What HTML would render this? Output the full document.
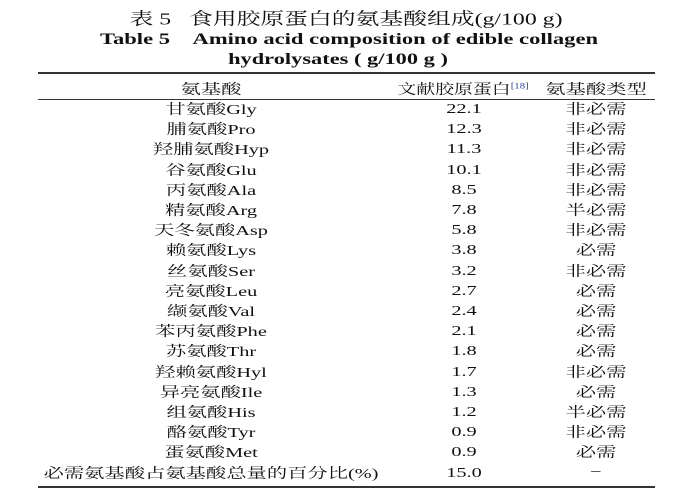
<!DOCTYPE html>
<html><head><meta charset="utf-8"><style>
body{margin:0;width:692px;height:502px;background:#fff;font-family:"Liberation Serif","Noto Serif CJK SC",serif;color:#111;position:relative;overflow:hidden}
.t{position:absolute;white-space:nowrap;transform:translate(-50%,-50%) scaleX(1.45);font-size:14px}
.r{position:absolute;left:38px;width:617px;background:#333}
</style></head><body>
<div class="t" style="left:346px;top:17px;font-size:17px;transform:translate(-50%,-50%) scaleX(1.4)">表 5&nbsp;&nbsp;&nbsp;食用胶原蛋白的氨基酸组成(g/100 g)</div>
<div class="t" style="left:349px;top:40px;font-size:16px;font-weight:bold;transform:translate(-50%,-50%) scaleX(1.41)">Table 5&nbsp;&nbsp;&nbsp;&nbsp;Amino acid composition of edible collagen</div>
<div class="t" style="left:338px;top:60px;font-size:16px;font-weight:bold;transform:translate(-50%,-50%) scaleX(1.4)">hydrolysates ( g/100 g )</div>
<div class="r" style="top:72px;height:2px"></div>
<div class="r" style="top:99px;height:1px"></div>
<div class="r" style="top:486px;height:2px"></div>
<div class="t" style="left:211px;top:89px">氨基酸</div>
<div class="t" style="left:463px;top:89px;transform:translate(-50%,-50%) scaleX(1.35)">文献胶原蛋白<sup style="font-size:8px;color:#2040a0">[18]</sup></div>
<div class="t" style="left:596px;top:89px">氨基酸类型</div>
<div id="rows"></div>
<script>
var d=[["甘氨酸Gly","22.1","非必需"],["脯氨酸Pro","12.3","非必需"],["羟脯氨酸Hyp","11.3","非必需"],["谷氨酸Glu","10.1","非必需"],["丙氨酸Ala","8.5","非必需"],["精氨酸Arg","7.8","半必需"],["天冬氨酸Asp","5.8","非必需"],["赖氨酸Lys","3.8","必需"],["丝氨酸Ser","3.2","非必需"],["亮氨酸Leu","2.7","必需"],["缬氨酸Val","2.4","必需"],["苯丙氨酸Phe","2.1","必需"],["苏氨酸Thr","1.8","必需"],["羟赖氨酸Hyl","1.7","非必需"],["异亮氨酸Ile","1.3","必需"],["组氨酸His","1.2","半必需"],["酪氨酸Tyr","0.9","非必需"],["蛋氨酸Met","0.9","必需"],["必需氨基酸占氨基酸总量的百分比(%)","15.0","−"]];
var h="";d.forEach(function(r,i){var y=109+i*20.2;
h+='<div class="t" style="left:211px;top:'+y+'px">'+r[0]+'</div><div class="t" style="left:464px;top:'+(y+1)+'px">'+r[1]+'</div><div class="t" style="left:596px;top:'+y+'px">'+r[2]+'</div>';});
document.getElementById("rows").innerHTML=h;
</script>
</body></html>
